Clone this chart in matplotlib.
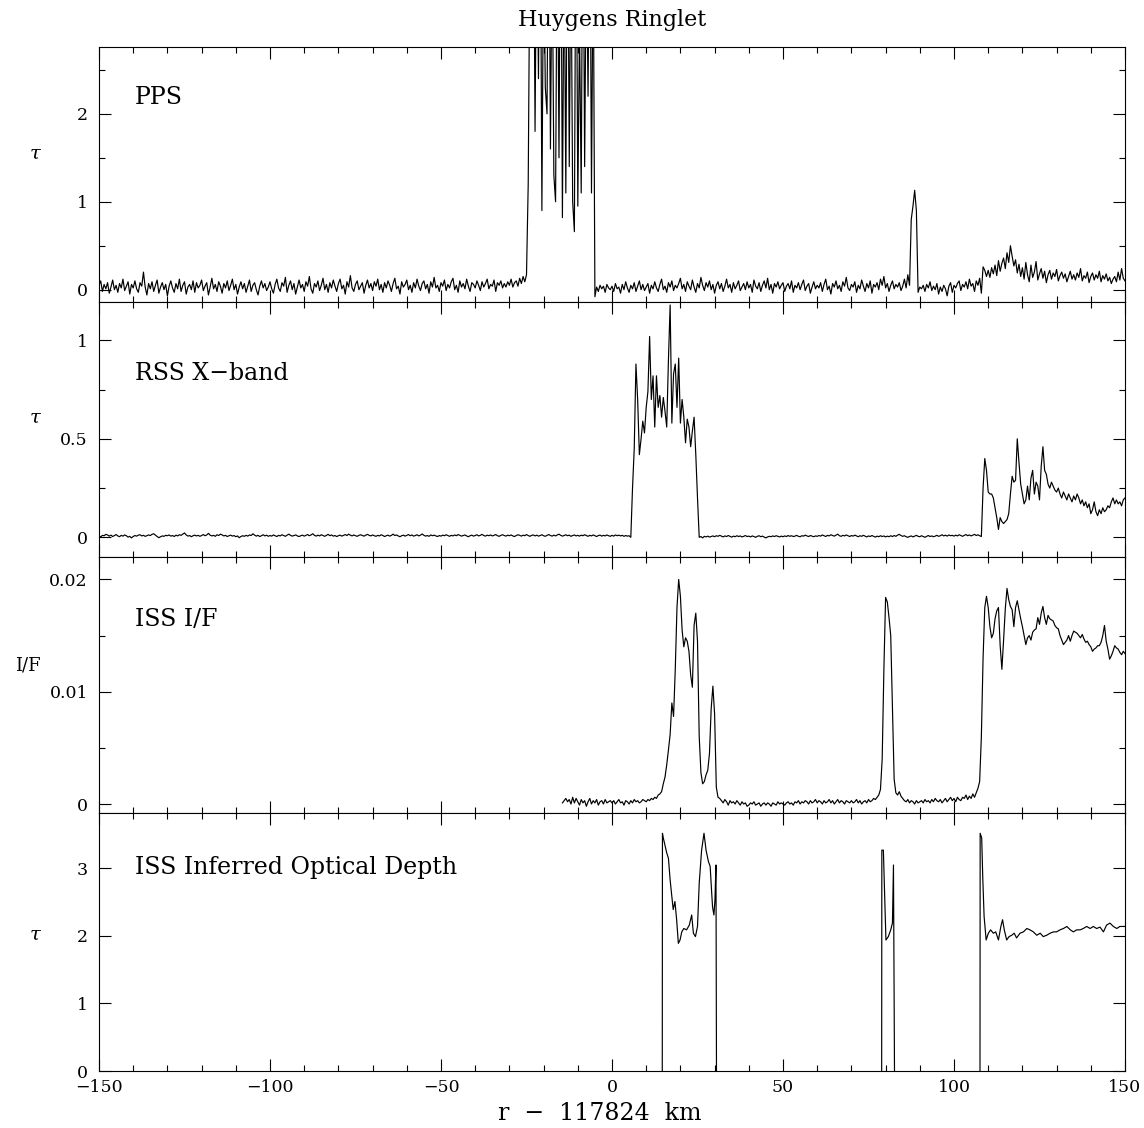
import numpy as np
import matplotlib.pyplot as plt
from matplotlib.ticker import MultipleLocator, FuncFormatter, NullLocator

plt.rcParams['font.family'] = ['DejaVu Serif']
plt.rcParams['mathtext.fontset'] = 'dejavuserif'

# PPS optical depth, 0.5 km samples from -150 to 150 km
pps_tau = [
    0.05, 0.10, -0.02, 0.06, 0.01, 0.08, -0.04, 0.03, 0.11, 0.00, 0.05, -0.03, 0.07, 0.02, 0.12, -0.01, 0.04, 0.09, -0.05, 0.06,
    0.02, 0.10, 0.01, -0.03, 0.08, 0.04, 0.20, 0.03, -0.06, 0.07, 0.01, 0.09, -0.02, 0.05, 0.11, -0.04, 0.03, 0.08, 0.00, 0.06,
    -0.07, 0.04, 0.10, 0.02, -0.03, 0.07, 0.01, 0.12, -0.02, 0.05, 0.09, -0.05, 0.03, 0.06, 0.00, 0.10, -0.03, 0.08, 0.02, 0.05,
    0.11, -0.01, 0.04, 0.08, -0.06, 0.03, 0.13, 0.01, 0.06, -0.02, 0.09, 0.04, -0.04, 0.07, 0.02, 0.10, -0.01, 0.05, 0.12, 0.00,
    0.06, -0.05, 0.03, 0.09, 0.01, 0.07, -0.03, 0.04, 0.11, -0.02, 0.05, 0.08, 0.00, -0.06, 0.04, 0.10, 0.02, 0.07, -0.01, 0.03,
    0.09, 0.01, -0.04, 0.06, 0.12, 0.02, -0.02, 0.08, 0.04, 0.14, -0.03, 0.05, 0.10, 0.00, 0.07, -0.05, 0.03, 0.11, 0.02, 0.06,
    -0.02, 0.09, 0.04, 0.15, 0.01, -0.04, 0.07, 0.03, 0.10, -0.01, 0.05, 0.13, 0.00, 0.06, -0.03, 0.08, 0.02, 0.11, 0.04, -0.02,
    0.07, 0.12, 0.01, 0.05, -0.05, 0.09, 0.03, 0.16, 0.02, -0.02, 0.06, 0.10, 0.00, 0.04, 0.08, -0.04, 0.05, 0.11, 0.02, 0.07,
    -0.01, 0.09, 0.04, 0.12, 0.00, 0.06, -0.03, 0.08, 0.02, 0.10, 0.05, -0.02, 0.07, 0.13, 0.01, 0.04, -0.05, 0.09, 0.03, 0.06,
    0.11, 0.00, 0.05, -0.03, 0.08, 0.02, 0.12, 0.04, -0.01, 0.07, 0.10, 0.01, 0.06, -0.04, 0.09, 0.03, 0.14, 0.02, 0.05, -0.02,
    0.08, 0.04, 0.11, -0.01, 0.06, 0.02, 0.09, 0.13, 0.00, 0.05, -0.03, 0.10, 0.03, 0.07, 0.01, 0.12, 0.04, -0.02, 0.08, 0.06,
    0.02, 0.10, 0.05, -0.01, 0.09, 0.03, 0.07, 0.12, 0.01, 0.06, 0.04, 0.11, -0.02, 0.08, 0.05, 0.10, 0.02, 0.07, 0.03, 0.09,
    0.05, 0.12, 0.03, 0.08, 0.10, 0.04, 0.13, 0.07, 0.15, 0.09, 0.17, 1.20, 4.00, 3.20, 5.00, 1.80, 4.50, 2.40, 5.00, 0.90,
    4.00, 2.30, 2.00, 5.00, 1.60, 4.00, 1.30, 1.00, 4.50, 1.50, 5.00, 0.82, 4.00, 1.10, 5.00, 1.40, 4.00, 1.00, 0.66, 5.00,
    0.95, 3.00, 1.10, 5.00, 1.40, 4.00, 2.20, 5.00, 1.10, 4.00, -0.08, 0.03, -0.02, 0.05, 0.01, 0.04, -0.03, 0.06, 0.02, 0.00,
    0.04, -0.02, 0.07, 0.01, 0.03, -0.04, 0.06, 0.00, 0.09, 0.02, -0.03, 0.05, 0.01, 0.08, -0.02, 0.04, 0.10, 0.00, 0.06, -0.01,
    0.03, 0.07, -0.04, 0.05, 0.01, 0.09, 0.02, -0.02, 0.06, 0.12, 0.00, 0.04, -0.03, 0.08, 0.03, 0.10, -0.01, 0.05, 0.02, 0.07,
    0.13, 0.01, 0.06, -0.02, 0.09, 0.04, 0.00, 0.11, 0.03, -0.03, 0.07, 0.02, 0.14, 0.05, -0.01, 0.08, 0.03, 0.10, 0.00, 0.06,
    -0.04, 0.05, 0.09, 0.01, 0.07, -0.02, 0.04, 0.12, 0.02, 0.06, -0.03, 0.08, 0.01, 0.05, 0.10, -0.01, 0.03, 0.07, 0.00, 0.09,
    0.02, 0.06, -0.03, 0.11, 0.04, 0.01, 0.08, -0.02, 0.05, 0.10, 0.02, 0.13, 0.00, 0.06, -0.04, 0.07, 0.03, 0.09, 0.01, 0.05,
    0.08, -0.02, 0.04, 0.07, 0.01, 0.10, -0.03, 0.05, 0.02, 0.08, 0.00, 0.06, 0.11, -0.01, 0.04, 0.07, -0.04, 0.03, 0.09, 0.01,
    0.05, 0.02, 0.08, -0.02, 0.06, 0.12, 0.00, 0.04, -0.05, 0.07, 0.03, 0.10, 0.01, 0.05, -0.02, 0.09, 0.04, 0.14, 0.02, -0.01,
    0.06, 0.03, 0.09, -0.03, 0.05, 0.01, 0.11, 0.04, -0.02, 0.07, 0.02, 0.10, -0.04, 0.06, 0.03, 0.08, 0.00, 0.12, 0.05, 0.15,
    0.02, 0.07, -0.02, 0.05, 0.10, 0.01, 0.06, 0.03, 0.08, -0.01, 0.04, 0.12, 0.02, 0.17, 0.05, 0.80, 0.95, 1.13, 0.90, -0.03,
    0.03, 0.01, 0.05, -0.02, 0.06, 0.02, 0.09, -0.01, 0.04, 0.00, 0.07, -0.05, 0.03, -0.02, 0.05, 0.01, -0.07, 0.04, 0.08, -0.03,
    0.05, 0.02, 0.07, 0.10, -0.01, 0.06, 0.03, 0.09, 0.01, 0.12, 0.04, 0.07, -0.02, 0.10, 0.05, 0.13, -0.04, 0.26, 0.22, 0.15,
    0.22, 0.14, 0.25, 0.18, 0.28, 0.16, 0.33, 0.21, 0.30, 0.36, 0.24, 0.42, 0.31, 0.50, 0.38, 0.27, 0.34, 0.19, 0.29, 0.15,
    0.25, 0.12, 0.31, 0.17, 0.09, 0.28, 0.14, 0.20, 0.32, 0.11, 0.18, 0.24, 0.13, 0.21, 0.08, 0.17, 0.22, 0.12, 0.19, 0.15,
    0.23, 0.10, 0.16, 0.20, 0.13, 0.18, 0.09, 0.15, 0.21, 0.12, 0.17, 0.11, 0.19, 0.14, 0.24, 0.10, 0.16, 0.13, 0.20, 0.08,
    0.15, 0.19, 0.11, 0.17, 0.13, 0.21, 0.09, 0.16, 0.12, 0.18, 0.10, 0.14, 0.07, 0.12, 0.15, 0.09, 0.20, 0.11, 0.24, 0.13,
    0.10,
]

# RSS X-band optical depth, 0.5 km samples from -150 to 150 km
rss_tau = [
    0.005, 0.002, 0.010, 0.008, 0.015, 0.012, 0.006, 0.011, 0.004, 0.009, 0.014, 0.007, 0.003, 0.010, 0.006, 0.012, 0.008, 0.001, 0.005, -0.003,
    0.004, 0.009, 0.006, 0.011, 0.013, 0.007, 0.010, 0.005, 0.008, 0.012, 0.009, 0.015, 0.018, 0.011, 0.004, -0.002, 0.003, 0.007, 0.005, 0.010,
    0.008, 0.012, 0.006, 0.009, 0.004, 0.011, 0.007, 0.013, 0.010, 0.016, 0.022, 0.012, 0.006, 0.009, 0.003, 0.008, 0.011, 0.007, 0.010, 0.005,
    0.009, 0.014, 0.008, 0.012, 0.020, 0.011, 0.007, 0.010, 0.005, 0.013, 0.009, 0.016, 0.012, 0.007, 0.010, 0.004, 0.008, 0.011, 0.006, 0.009,
    0.003, 0.007, -0.002, 0.004, 0.008, 0.005, 0.010, 0.006, 0.012, 0.009, 0.018, 0.011, 0.006, 0.010, 0.004, 0.008, 0.013, 0.007, 0.011, 0.005,
    0.009, 0.006, 0.012, 0.008, 0.004, 0.010, 0.007, 0.013, 0.009, 0.005, 0.011, 0.016, 0.010, 0.006, 0.009, 0.012, 0.007, 0.004, 0.008, 0.011,
    0.006, 0.010, 0.014, 0.008, 0.012, 0.018, 0.010, 0.006, 0.011, 0.007, 0.013, 0.009, 0.005, 0.010, 0.015, 0.008, 0.012, 0.006, 0.009, 0.004,
    0.008, 0.011, 0.006, 0.010, 0.014, 0.009, 0.016, 0.011, 0.007, 0.012, 0.008, 0.005, 0.010, 0.013, 0.009, 0.006, 0.011, 0.015, 0.010, 0.007,
    0.012, 0.008, 0.005, 0.010, 0.007, 0.013, 0.009, 0.004, 0.008, 0.011, 0.006, 0.010, 0.016, 0.009, 0.012, 0.007, 0.003, 0.008, 0.011, 0.006,
    0.010, 0.014, 0.008, 0.012, 0.006, 0.009, 0.013, 0.007, 0.011, 0.017, 0.010, 0.006, 0.009, 0.005, 0.012, 0.008, 0.011, 0.007, 0.004, 0.009,
    0.006, 0.011, 0.008, 0.013, 0.009, 0.005, 0.010, 0.007, 0.012, 0.008, 0.014, 0.010, 0.006, 0.009, 0.012, 0.007, 0.003, 0.008, 0.011, 0.006,
    0.009, 0.013, 0.007, 0.010, 0.015, 0.009, 0.006, 0.011, 0.008, 0.012, 0.007, 0.010, 0.014, 0.008, 0.005, 0.010, 0.013, 0.009, 0.006, 0.011,
    0.008, 0.012, 0.007, 0.004, 0.009, 0.013, 0.010, 0.006, 0.011, 0.008, 0.014, 0.009, 0.005, 0.010, 0.012, 0.007, 0.011, 0.006, 0.009, 0.013,
    0.008, 0.005, 0.010, 0.014, 0.009, 0.006, 0.011, 0.007, 0.012, 0.016, 0.010, 0.006, 0.009, 0.013, 0.008, 0.011, 0.005, 0.009, 0.012, 0.007,
    0.010, 0.006, 0.011, 0.008, 0.013, 0.009, 0.005, 0.010, 0.007, 0.012, 0.008, 0.004, 0.009, 0.011, 0.006, 0.010, 0.007, 0.012, 0.008, 0.005,
    0.010, 0.006, 0.012, 0.008, 0.011, 0.007, 0.010, 0.005, 0.009, 0.006, 0.008, 0.000, 0.25, 0.45, 0.88, 0.70, 0.42, 0.50, 0.59, 0.53,
    0.66, 0.74, 1.02, 0.70, 0.82, 0.56, 0.82, 0.66, 0.72, 0.61, 0.71, 0.64, 0.56, 0.90, 1.18, 0.58, 0.83, 0.88, 0.66, 0.91,
    0.58, 0.70, 0.61, 0.48, 0.60, 0.56, 0.46, 0.54, 0.61, 0.42, 0.20, 0.000, 0.004, -0.003, 0.005, 0.002, 0.006, 0.001, 0.004, 0.007,
    0.003, 0.008, 0.005, 0.010, 0.006, 0.002, 0.007, 0.004, 0.009, 0.005, 0.001, 0.006, 0.003, 0.008, 0.004, 0.007, 0.002, 0.005, 0.009, 0.004,
    0.006, 0.002, 0.007, 0.004, 0.000, 0.005, 0.008, 0.003, 0.006, 0.001, -0.003, 0.002, 0.005, 0.003, 0.007, 0.004, 0.008, 0.005, 0.002, 0.006,
    0.003, 0.007, 0.004, 0.009, 0.005, 0.008, 0.004, 0.006, 0.010, 0.005, 0.003, 0.008, 0.006, 0.011, 0.007, 0.004, 0.009, 0.006, 0.003, 0.007,
    0.005, 0.009, 0.006, 0.012, 0.008, 0.004, 0.010, 0.007, 0.013, 0.009, 0.006, 0.011, 0.016, 0.008, 0.005, 0.010, 0.007, 0.012, 0.008, 0.004,
    0.009, 0.006, 0.011, 0.007, 0.003, 0.008, 0.005, 0.010, 0.006, 0.002, 0.007, 0.004, 0.009, 0.005, 0.001, 0.006, 0.003, 0.008, 0.004, 0.007,
    0.002, 0.006, 0.003, 0.008, 0.004, 0.009, 0.005, 0.011, 0.015, 0.009, 0.005, 0.008, 0.003, 0.000, 0.004, 0.007, 0.002, 0.006, 0.010, 0.005,
    0.003, 0.008, 0.004, 0.000, 0.005, 0.009, 0.004, 0.007, 0.003, 0.006, 0.010, 0.005, 0.008, 0.013, 0.007, 0.011, 0.006, 0.012, 0.008, 0.010,
    0.006, 0.011, 0.007, 0.013, 0.009, 0.005, 0.010, 0.014, 0.008, 0.012, 0.007, 0.011, 0.015, 0.009, 0.013, 0.008, 0.004, 0.25, 0.40, 0.34,
    0.23, 0.22, 0.22, 0.20, 0.15, 0.10, 0.04, 0.10, 0.08, 0.07, 0.08, 0.09, 0.12, 0.22, 0.31, 0.28, 0.29, 0.50, 0.38, 0.27,
    0.22, 0.17, 0.19, 0.26, 0.19, 0.30, 0.34, 0.22, 0.28, 0.26, 0.19, 0.36, 0.46, 0.34, 0.32, 0.27, 0.25, 0.28, 0.26, 0.24,
    0.23, 0.25, 0.22, 0.20, 0.23, 0.21, 0.19, 0.22, 0.20, 0.18, 0.21, 0.19, 0.22, 0.20, 0.17, 0.19, 0.16, 0.18, 0.15, 0.17,
    0.12, 0.14, 0.18, 0.13, 0.11, 0.14, 0.12, 0.15, 0.13, 0.14, 0.16, 0.15, 0.18, 0.20, 0.17, 0.19, 0.17, 0.18, 0.16, 0.19,
    0.20,
]

# ISS I/F in units of 0.001, 0.5 km samples from -14.5 to 150 km
iss_if_milli = [
    0.1, 0.3, 0.5, 0.2, 0.4, 0.0, 0.6, 0.1, 0.5,
    0.2, -0.1, 0.4, 0.1, 0.3, -0.2, 0.2, 0.5, 0.0, 0.3, 0.1, 0.4, -0.1, 0.2, 0.3, 0.0, 0.4, 0.1, 0.2, 0.3,
    0.1, 0.3, 0.0, 0.2, 0.4, 0.1, 0.2, -0.1, 0.3, 0.2, 0.0, 0.3, 0.1, 0.4, 0.2, 0.3, 0.1, 0.2, 0.4, 0.3,
    0.2, 0.4, 0.3, 0.5, 0.4, 0.6, 0.5, 0.8, 0.9, 1.1, 1.8, 2.4, 3.5, 4.8, 6.2, 9.0, 7.8, 12.0, 17.5, 20.0,
    18.5, 15.5, 14.0, 14.8, 14.5, 13.6, 11.5, 10.4, 15.9, 17.0, 14.5, 6.0, 2.8, 1.8, 2.0, 2.6, 3.0, 4.5, 8.5, 10.5,
    8.0, 1.5, 0.6, 0.5, 0.3, 0.1, 0.4, 0.2, -0.1, 0.3, 0.1, 0.2, 0.0, 0.3, 0.1, -0.1, 0.2, 0.0, 0.1, -0.2,
    -0.1, 0.1, 0.0, 0.2, -0.1, 0.0, 0.1, -0.2, 0.0, 0.1, -0.1, 0.1, 0.0, -0.2, 0.1, 0.0, -0.1, 0.2, 0.0, 0.1,
    0.0, -0.1, 0.1, 0.2, 0.0, 0.1, -0.1, 0.2, 0.1, 0.3, 0.0, 0.2, 0.1, 0.3, 0.2, 0.0, 0.3, 0.1, 0.2, 0.4,
    0.1, 0.3, 0.2, 0.0, 0.3, 0.1, 0.2, 0.4, 0.1, 0.3, 0.0, 0.2, 0.4, 0.1, 0.3, 0.2, 0.0, 0.3, 0.2, 0.1,
    0.3, 0.1, 0.2, 0.4, 0.1, 0.3, 0.0, 0.2, 0.3, 0.1, 0.4, 0.2, 0.3, 0.5, 0.4, 0.6, 0.8, 1.3, 4.0, 12.0,
    18.4, 18.0, 16.6, 15.0, 8.5, 2.2, 1.0, 0.8, 1.1, 0.7, 0.5, 0.3, 0.2, 0.4, 0.1, 0.3, 0.2, 0.0, 0.3, 0.1,
    0.2, 0.3, 0.1, 0.4, 0.2, 0.3, 0.1, 0.4, 0.2, 0.5, 0.3, 0.2, 0.4, 0.1, 0.3, 0.5, 0.2, 0.4, 0.6, 0.3,
    0.5, 0.2, 0.6, 0.4, 0.3, 0.6, 0.5, 0.8, 0.4, 0.7, 0.5, 0.9, 0.6, 1.0, 1.4, 2.0, 6.0, 13.0, 17.5, 18.5,
    17.5, 15.8, 14.8, 15.2, 16.5, 17.2, 17.5, 14.1, 12.0, 14.6, 17.4, 19.2, 18.2, 17.6, 17.3, 15.8, 17.5, 18.1, 17.3, 16.5,
    15.8, 15.0, 14.2, 14.8, 15.0, 14.6, 15.3, 15.5, 15.6, 16.6, 16.0, 17.0, 17.6, 16.6, 16.0, 16.8, 16.5, 16.4, 16.3, 15.9,
    15.7, 15.6, 15.0, 14.6, 14.2, 14.4, 14.6, 15.0, 14.5, 15.0, 15.4, 15.3, 15.2, 15.0, 14.8, 15.1, 14.7, 14.4, 14.5, 14.2,
    14.0, 13.6, 13.8, 13.9, 14.1, 14.1, 14.4, 15.0, 15.9, 14.5, 13.8, 12.9, 13.2, 13.6, 14.1, 13.9, 13.8, 13.5, 13.3, 13.6,
    13.4,
]

# ISS inferred optical depth: three segments, read as (km, tau) pairs
tau_km = [
    14.70, 14.75, 15.0, 16.0, 16.5, 17.0, 17.4, 17.9, 18.4, 18.9, 19.4, 19.9, 20.4, 21.0, 21.8, 22.6, 23.3, 23.8,
    24.4, 25.0, 25.5, 26.2, 26.9, 27.5, 28.2, 28.7, 29.1, 29.4, 29.8, 30.1, 30.4, 30.55, np.nan,
    78.85, 78.90, 79.35, 79.65, 80.1, 80.8, 81.5, 82.0, 82.3, 82.6, np.nan,
    107.60, 107.65, 108.1, 108.4, 108.8, 109.4, 110.05, 110.7, 111.5, 112.2, 113.0, 113.7, 114.2, 114.7, 115.4,
    116.1, 116.9, 117.6, 118.3, 119.3, 120.3, 121.3, 122.2, 123.2, 124.2, 125.2, 126.1, 127.1, 128.1, 129.1,
    130.0, 131.0, 132.0, 133.0, 134.0, 134.9, 135.9, 136.9, 137.8, 138.8, 139.8, 140.75, 141.7, 142.7, 143.7,
    144.6, 145.6, 146.6, 147.6, 148.5, 150.0,
]
tau_iss = [
    0.0, 3.52, 3.45, 3.23, 3.15, 2.83, 2.63, 2.39, 2.51, 2.24, 1.89, 1.94, 2.06, 2.11, 2.09, 2.16, 2.31, 2.04,
    1.99, 2.14, 2.78, 3.27, 3.52, 3.27, 3.10, 3.03, 2.68, 2.43, 2.31, 2.53, 3.05, 0.0, np.nan,
    0.0, 3.27, 3.27, 2.73, 1.94, 1.99, 2.09, 2.19, 3.05, 0.0, np.nan,
    0.0, 3.52, 3.45, 2.88, 2.29, 1.94, 2.04, 2.09, 2.04, 2.06, 1.94, 2.14, 2.24, 2.09, 1.94,
    1.99, 2.01, 2.04, 1.97, 2.04, 2.06, 2.11, 2.09, 2.06, 2.01, 2.04, 1.99, 2.01, 2.04, 2.06,
    2.06, 2.09, 2.11, 2.14, 2.09, 2.06, 2.09, 2.09, 2.11, 2.14, 2.11, 2.14, 2.11, 2.13, 2.06,
    2.16, 2.19, 2.14, 2.11, 2.14, 2.14,
]

pps_km = -150 + 0.5 * np.arange(len(pps_tau))
rss_km = -150 + 0.5 * np.arange(len(rss_tau))
iss_km = -14.5 + 0.5 * np.arange(len(iss_if_milli))
iss_if = np.array(iss_if_milli) * 1e-3

W, H = 1144, 1128
fig = plt.figure(figsize=(W / 100, H / 100), dpi=100)

left_px, right_px = 99, 1125
edges = [47, 302, 557, 813, 1071]

panels = [
    # x, y, ylim, major, minor, ylabel, ylabel pos, name, name y
    (pps_km, pps_tau, (-0.14, 2.76), 1, 0.5, "τ", 0.58, "PPS", 0.80),
    (rss_km, rss_tau, (-0.10, 1.195), 0.5, 0.25, "τ", 0.545, "RSS X\u2212band", 0.72),
    (iss_km, iss_if, (-0.0008, 0.022), 0.01, 0.005, "I/F", 0.578, "ISS I/F", 0.755),
    (tau_km, tau_iss, (0, 3.82), 1, None, "τ", 0.527, "ISS Inferred Optical Depth", 0.79),
]

fmt = FuncFormatter(lambda v, p: f"{v:g}".replace("-", "\u2212"))

for i, (xs, ys, ylim, major, minor, ylab, ylab_y, name, name_y) in enumerate(panels):
    top, bot = edges[i], edges[i + 1]
    ax = fig.add_axes([left_px / W, 1 - bot / H, (right_px - left_px) / W, (bot - top) / H])
    ax.plot(xs, ys, color="black", lw=0.85)
    ax.set_xlim(-150, 150)
    ax.set_ylim(*ylim)
    ax.xaxis.set_major_locator(MultipleLocator(50))
    ax.xaxis.set_minor_locator(MultipleLocator(10))
    ax.yaxis.set_major_locator(MultipleLocator(major))
    if minor:
        ax.yaxis.set_minor_locator(MultipleLocator(minor))
    else:
        ax.yaxis.set_minor_locator(NullLocator())
    ax.yaxis.set_major_formatter(fmt)
    ax.xaxis.set_major_formatter(fmt)
    ax.tick_params(which="both", direction="in", top=True, right=True,
                   width=0.8, labelsize=12.5, pad=8)
    ax.tick_params(axis="x", pad=6)
    ax.tick_params(which="major", length=8.5)
    ax.tick_params(which="minor", length=4.3)
    for s in ax.spines.values():
        s.set_linewidth(0.8)
    if i < 3:
        ax.tick_params(labelbottom=False)
    style = "italic" if ylab == "τ" else "normal"
    xoff = -0.062 if ylab == "τ" else -0.069
    ax.text(xoff, ylab_y, ylab, transform=ax.transAxes, ha="center", va="center",
            fontsize=14 if ylab == "τ" else 13, style=style)
    ax.text(0.035, name_y, name, transform=ax.transAxes, ha="left", va="center",
            fontsize=17)

fig.text((left_px + right_px) / 2 / W, 1 - 20 / H, "Huygens Ringlet",
         ha="center", va="center", fontsize=16)
fig.text(600 / W, 1 - 1113 / H, "r  \u2212  117824  km",
         ha="center", va="center", fontsize=17)

fig.savefig("out.png", dpi=100)
